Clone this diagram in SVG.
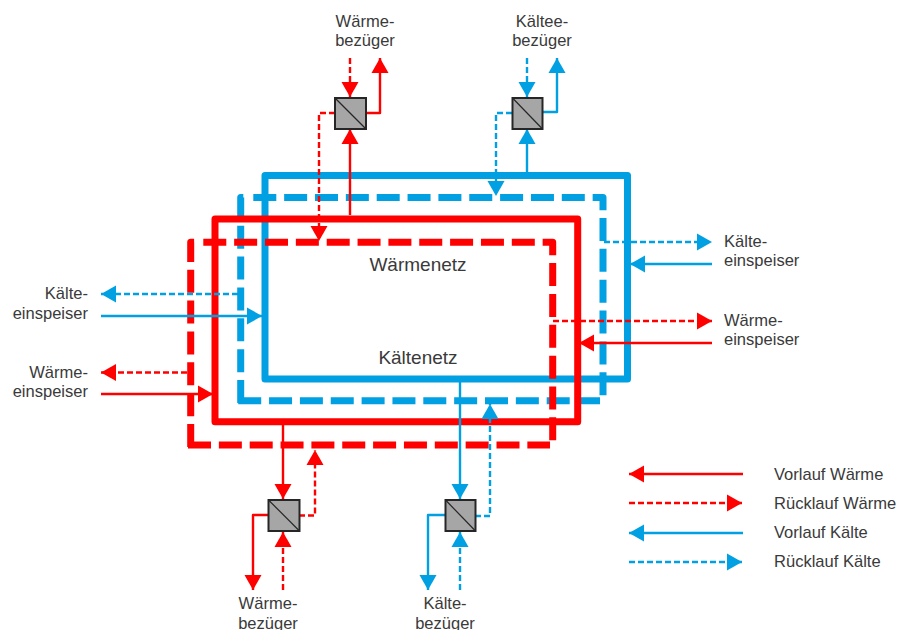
<svg xmlns="http://www.w3.org/2000/svg" width="899" height="630" viewBox="0 0 899 630">
<style>
text{font-family:"Liberation Sans",Arial,sans-serif;font-size:16.55px;fill:#3a3a3a}
.c{text-anchor:middle}.r{text-anchor:end}
.big{font-size:19px}
.net{fill:none;stroke-width:7;stroke-linejoin:round}
.dash{stroke-dasharray:23 7.85}
.red{stroke:#ff0000}.blue{stroke:#00a0e3}
.l{fill:none;stroke-width:2.4;stroke-linejoin:round}
.d{stroke-dasharray:6 3}
.hx rect{fill:#a6a6a6;stroke:#262626;stroke-width:2}
.hx line{stroke:#262626;stroke-width:1.2}
</style>
<defs>
<marker id="ar" markerUnits="userSpaceOnUse" markerWidth="16" markerHeight="18" refX="15" refY="9" orient="auto"><path d="M0,0.5L15,9L0,17.5Z" fill="#ff0000"/></marker>
<marker id="ab" markerUnits="userSpaceOnUse" markerWidth="16" markerHeight="18" refX="15" refY="9" orient="auto"><path d="M0,0.5L15,9L0,17.5Z" fill="#00a0e3"/></marker>
</defs>
<g id="kaeltenetz-vorlauf"><rect class="net blue" x="265" y="175.5" width="362.5" height="203.5"/></g>
<g id="kaeltenetz-ruecklauf"><path class="net blue dash" d="M240.7,403V197.5H246M253.300,197.5H603V396M238.2,400.7H600"/></g>
<g id="waermenetz-vorlauf"><rect class="net red" x="215" y="219" width="362.7" height="202.7"/></g>
<g id="waermenetz-ruecklauf"><path class="net red dash" d="M190.7,447V242.3H196M203.3,242.3H552.7V441M188,445H550"/></g>
<g id="connectors">
<g marker-end="url(#ar)" class="l red">
<path d="M350,215V129"/>
<path d="M366,113H380V58"/>
<path d="M712,343H579"/>
<path d="M101,394H213"/>
<path d="M283,423V499"/>
<path d="M268,515H253V590"/>
<path d="M743,474H629"/>
</g>
<g marker-end="url(#ar)" class="l d red">
<path d="M350,58V97"/>
<path d="M335,113H319V241"/>
<path d="M553,321H712"/>
<path d="M187,372.500H101"/>
<path d="M299,515.500H315V450"/>
<path d="M283,590V532"/>
<path d="M629,503H742"/>
</g>
<g marker-end="url(#ab)" class="l blue">
<path d="M527,175V129"/>
<path d="M542,112H557V58"/>
<path d="M712,264H630"/>
<path d="M101,316H262"/>
<path d="M460,381V499"/>
<path d="M445,515H428V590"/>
<path d="M743,533H629"/>
</g>
<g marker-end="url(#ab)" class="l d blue">
<path d="M527,58V97"/>
<path d="M512,113H496V196"/>
<path d="M604,242H712"/>
<path d="M238,294H101"/>
<path d="M475,516H490V404"/>
<path d="M460,590V532"/>
<path d="M629,562H742"/>
</g>
</g>
<g id="hx-top-left" class="hx"><rect x="335" y="98" width="31" height="31"/><line x1="335" y1="98" x2="366" y2="129"/></g>
<g id="hx-top-right" class="hx"><rect x="512.500" y="98" width="30" height="31"/><line x1="512.500" y1="98" x2="542.500" y2="129"/></g>
<g id="hx-bottom-left" class="hx"><rect x="268.500" y="500" width="31" height="31"/><line x1="268.500" y1="500" x2="299.500" y2="531"/></g>
<g id="hx-bottom-right" class="hx"><rect x="445.500" y="500" width="30" height="31"/><line x1="445.500" y1="500" x2="475.500" y2="531"/></g>
<g id="label-waermebezueger-top"><text class="c" x="365" y="27">Wärme-</text><text class="c" x="365" y="46">bezüger</text></g>
<g id="label-kaeltebezueger-top"><text class="c" x="542" y="27">Kältee-</text><text class="c" x="542" y="46">bezüger</text></g>
<g id="label-kaelte-links"><text class="r" x="88" y="299">Kälte-</text><text class="r" x="88" y="319">einspeiser</text></g>
<g id="label-waerme-links"><text class="r" x="88" y="378">Wärme-</text><text class="r" x="88" y="397">einspeiser</text></g>
<g id="label-kaelte-rechts"><text x="724" y="247">Kälte-</text><text x="724" y="266">einspeiser</text></g>
<g id="label-waerme-rechts"><text x="724" y="326">Wärme-</text><text x="724" y="345">einspeiser</text></g>
<g id="label-waermebezueger-bottom"><text class="c" x="268" y="609">Wärme-</text><text class="c" x="268" y="629">bezüger</text></g>
<g id="label-kaeltebezueger-bottom"><text class="c" x="445" y="609">Kälte-</text><text class="c" x="445" y="629">bezüger</text></g>
<g id="label-waermenetz"><text class="c big" x="418" y="271">Wärmenetz</text></g>
<g id="label-kaeltenetz"><text class="c big" x="418" y="364">Kältenetz</text></g>
<g id="legend"><text x="774" y="480">Vorlauf Wärme</text><text x="774" y="509">Rücklauf Wärme</text><text x="774" y="538">Vorlauf Kälte</text><text x="774" y="567">Rücklauf Kälte</text></g>
</svg>
